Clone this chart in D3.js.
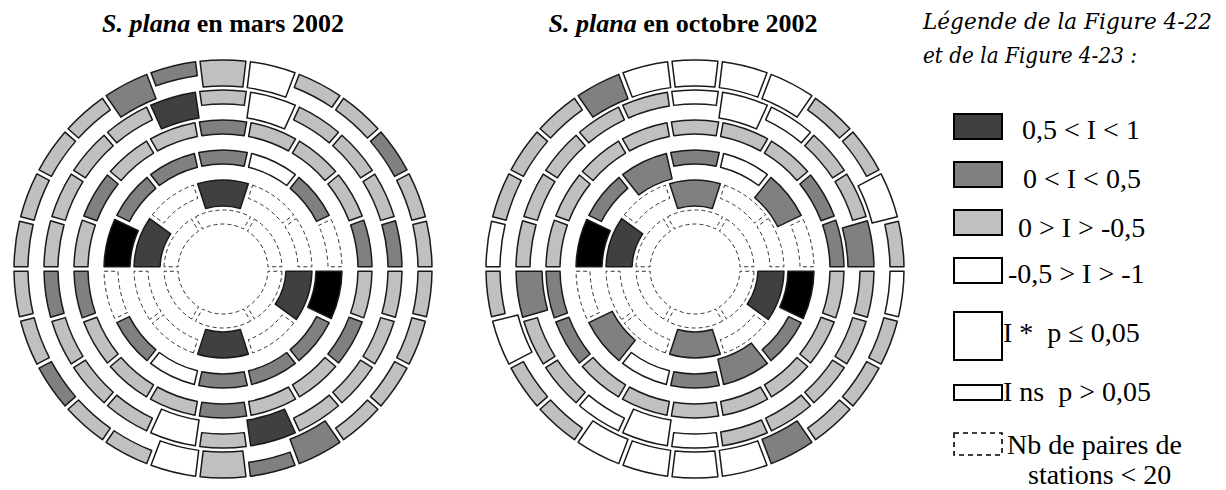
<!DOCTYPE html>
<html>
<head>
<meta charset="utf-8">
<script src="https://cdn.jsdelivr.net/npm/d3@7"></script>
<style>
  body { margin: 0; background: #fff; }
  svg { display: block; }
</style>
</head>
<body>
<svg id="chart" width="1226" height="490"></svg>
<script>
// Number of direction sectors in each distance class, from the centre outwards
const sectorCounts = [6, 10, 14, 18, 22, 26];

// For each distance class: the half-circle of sectors starting at north and
// turning clockwise. The other half repeats it (a direction and its reverse
// share one value).
// Code: k = black, d = 0.5 < I < 1, m = 0 < I < 0.5, l = 0 > I > -0.5,
//       w = -0.5 > I > -1, "*" = significant, x = fewer than 20 pairs
const marsRings = [
  ["x", "x", "x"],
  ["d*", "x", "x", "d*", "x"],
  ["m", "w", "m", "x", "k*", "m", "m"],
  ["m", "l", "l", "l", "m", "l", "m", "l", "l"],
  ["l", "w*", "l", "l", "l", "m", "l", "l", "l", "l", "d*"],
  ["l*", "w*", "l", "l", "m", "l", "l", "l", "l", "l", "l", "m*", "m"]
];
const octobreRings = [
  ["x", "x", "x"],
  ["m*", "x", "x", "d*", "x"],
  ["m", "w", "m*", "x", "k*", "m", "m*"],
  ["l", "l", "l", "m", "m", "l", "l", "l", "l"],
  ["w", "w*", "w", "l", "l", "m*", "l", "l", "l", "l", "l"],
  ["w*", "w*", "w*", "l", "l", "w*", "l", "w", "l", "l", "l", "m*", "w*"]
];

const chartTitles = [
  { italic: "S. plana", rest: " en mars 2002" },
  { italic: "S. plana", rest: " en octobre 2002" }
];

const legendHeading = ["Légende de la Figure 4-22", "et de la Figure 4-23 :"];
const legendClasses = ["d", "m", "l", "w"];
const legendClassLabels = ["0,5 < I < 1", "0 < I < 0,5", "0 > I > -0,5", "-0,5 > I > -1"];
const legendSymbolLabels = ["I *\u00a0\u00a0p \u2264 0,05", "I ns\u00a0\u00a0p > 0,05", "Nb de paires de", "stations < 20"];

const fills = { k: "#000000", d: "#404040", m: "#808080", l: "#c0c0c0", w: "#ffffff", x: "#ffffff" };

const svg = d3.select("#chart");
const serif = "'Liberation Serif', 'Times New Roman', serif";

// Ring outer radius by distance class
const ringOuter = d3.scaleLinear().domain([1, 6]).range([59, 209]);
const thickBand = 26, thinBand = 14;

const arc = d3.arc()
  .innerRadius(d => d.outer - (d.sig ? thickBand : thinBand))
  .outerRadius(d => d.outer)
  .startAngle(d => d.a0)
  .endAngle(d => d.a1)
  .padAngle(0.045)
  .padRadius(100);

function buildSegments(rings) {
  const segs = [];
  rings.forEach((half, i) => {
    const n = sectorCounts[i];
    const angle = d3.scaleLinear().domain([0, n]).range([0, 2 * Math.PI]);
    for (let k = 0; k < n; k++) {
      const code = half[k % half.length];
      const cls = code[0];
      segs.push({
        ring: i + 1,
        outer: ringOuter(i + 1),
        a0: angle(k - 0.5),
        a1: angle(k + 0.5),
        cls,
        sig: code.includes("*"),
        few: cls === "x"
      });
    }
  });
  return segs;
}

function drawRose(rings, cx, cy) {
  const g = svg.append("g").attr("transform", `translate(${cx},${cy})`);
  g.selectAll("path")
    .data(buildSegments(rings))
    .join("path")
    .attr("d", arc)
    .attr("fill", d => fills[d.cls])
    .attr("stroke", d => d.few ? "#333" : "#1a1a1a")
    .attr("stroke-width", d => d.few ? 1 : 1.5)
    .attr("stroke-dasharray", d => d.few ? "4,3" : null)
    .attr("stroke-linejoin", "round");
}

drawRose(marsRings, 223, 269);
drawRose(octobreRings, 695, 269);

// Titles
const titleCenter = [223, 683];
chartTitles.forEach((t, i) => {
  const txt = svg.append("text")
    .attr("x", titleCenter[i]).attr("y", 32)
    .attr("text-anchor", "middle")
    .attr("font-family", serif).attr("font-size", 26).attr("font-weight", "bold")
    .attr("fill", "#000");
  txt.append("tspan").attr("font-style", "italic").text(t.italic);
  txt.append("tspan").text(t.rest);
});

// Legend heading
legendHeading.forEach((s, i) => {
  svg.append("text")
    .attr("x", 923).attr("y", [29, 63][i])
    .attr("font-family", "'DejaVu Serif', serif").attr("font-style", "italic")
    .attr("font-size", 22)
    .attr("textLength", [289, 214][i]).attr("lengthAdjust", "spacingAndGlyphs")
    .attr("fill", "#000")
    .text(s);
});

// Legend: classes of I
const boxX = 954, boxW = 48;
const classBoxY = [114, 162, 210, 258];
const classTextX = [1022, 1023, 1018, 1008];
const classBase = [139, 188, 237, 283];
legendClasses.forEach((c, i) => {
  svg.append("rect")
    .attr("x", boxX).attr("y", classBoxY[i]).attr("width", boxW).attr("height", 25)
    .attr("fill", fills[c]).attr("stroke", "#000").attr("stroke-width", 2);
  svg.append("text")
    .attr("x", classTextX[i]).attr("y", classBase[i])
    .attr("font-family", serif).attr("font-size", 28).attr("fill", "#000")
    .text(legendClassLabels[i]);
});

// Legend: significance and number of pairs
svg.append("rect").attr("x", boxX).attr("y", 312).attr("width", boxW).attr("height", 48)
  .attr("fill", "#fff").attr("stroke", "#000").attr("stroke-width", 2);
svg.append("rect").attr("x", boxX).attr("y", 385).attr("width", boxW).attr("height", 15)
  .attr("fill", "#fff").attr("stroke", "#000").attr("stroke-width", 2);
svg.append("rect").attr("x", boxX).attr("y", 433).attr("width", boxW).attr("height", 22)
  .attr("fill", "#fff").attr("stroke", "#000").attr("stroke-width", 1.6)
  .attr("stroke-dasharray", "5,4");

const symX = [1003, 1003, 1007, 1028];
const symBase = [342, 401, 454, 484];
legendSymbolLabels.forEach((s, i) => {
  svg.append("text")
    .attr("x", symX[i]).attr("y", symBase[i])
    .attr("font-family", serif).attr("font-size", 28).attr("fill", "#000")
    .text(s);
});
</script>
</body>
</html>
